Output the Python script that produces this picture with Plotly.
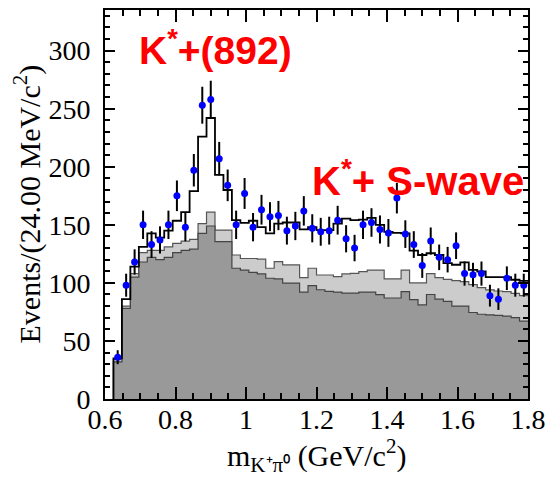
import plotly.graph_objects as go

# Binning: 24 MeV bins from 0.624 to 1.800 GeV/c^2
bin_lo = 0.624
bin_w = 0.024
n_bins = 49

# Observed events per bin
counts = [36, 98, 118, 150, 133, 137, 150, 175, 148, 197,
          253, 258, 207, 184, 150, 177, 148, 163, 157, 158,
          145, 149, 162, 147, 144, 145, 154, 138, 130, 150,
          152, 146, 143, 173, 142, 133, 115, 136, 122, 120,
          132, 108, 107, 108, 89, 86, 104, 98, 98]

# Statistical (Poisson) uncertainties on the counts
count_err = [6.0, 9.9, 10.9, 12.2, 11.5, 11.7, 12.2, 13.2, 12.2, 14.0,
             15.9, 16.1, 14.4, 13.6, 12.2, 13.3, 12.2, 12.8, 12.5, 12.6,
             12.0, 12.2, 12.7, 12.1, 12.0, 12.0, 12.4, 11.7, 11.4, 12.2,
             12.3, 12.1, 12.0, 13.2, 11.9, 11.5, 10.7, 11.7, 11.0, 11.0,
             11.5, 10.4, 10.3, 10.4, 9.4, 9.3, 10.2, 9.9, 9.9]

# Total fit
fit_total = [35, 86, 114, 131, 142.6, 139, 145, 153.5, 161, 179,
             226, 242, 193, 180, 154, 151.7, 153.5, 148, 142.6, 151,
             152, 152, 146, 148, 145.5, 145.5, 151, 155.4, 154, 154.5,
             156, 150, 144, 143, 142.6, 127.7, 124, 125.5, 124, 117,
             115.6, 117.6, 111.2, 109.8, 105, 105, 105, 102.7, 101.8]

# Stacked background: light component sits on top of the dark one
bkg_light = [34, 80, 108, 126, 128, 128, 131, 134, 136, 137.5,
             151, 161, 145.5, 145.5, 124, 121, 121, 120.4, 112.6, 118.3,
             115.5, 115.5, 104.6, 112.6, 106.8, 106.8, 105.4, 107.7, 108.2, 109.7,
             111, 111, 103.5, 103.5, 111, 100, 100, 108, 104.5, 103,
             102, 101, 98.5, 96, 94, 93, 92.5, 91, 89]

bkg_dark = [32, 78, 105, 118, 122, 120, 122, 126, 128, 129,
            142.6, 149, 135.5, 135.5, 112.6, 111, 109, 107.7, 104, 103.4,
            99.8, 99.8, 92.1, 97.6, 94.1, 92.7, 92.1, 91.2, 91.2, 92.1,
            92.1, 89.8, 87, 87, 92.5, 85.5, 81, 90, 86, 84,
            80, 80, 74.5, 73, 72.5, 72, 71.3, 70, 67]

edges = [bin_lo + bin_w * i for i in range(n_bins + 1)]
centers = [bin_lo + bin_w * (i + 0.5) for i in range(n_bins)]


def step_xy(vals):
    # hv-step path starting from zero at the first edge
    xs = [edges[0]] + edges
    ys = [0] + list(vals) + [vals[-1]]
    return xs, ys


fig = go.Figure()

x_l, y_l = step_xy(bkg_light)
fig.add_trace(go.Scatter(x=x_l, y=y_l, mode="lines", line_shape="hv",
                         line=dict(color="#555555", width=1.2),
                         fill="tozeroy", fillcolor="#cccccc",
                         showlegend=False, hoverinfo="skip"))

x_d, y_d = step_xy(bkg_dark)
fig.add_trace(go.Scatter(x=x_d, y=y_d, mode="lines", line_shape="hv",
                         line=dict(color="#444444", width=1.2),
                         fill="tozeroy", fillcolor="#999999",
                         showlegend=False, hoverinfo="skip"))

x_t, y_t = step_xy(fit_total)
fig.add_trace(go.Scatter(x=x_t, y=y_t, mode="lines", line_shape="hv",
                         line=dict(color="black", width=1.8),
                         showlegend=False, hoverinfo="skip"))

fig.add_trace(go.Scatter(x=centers, y=counts, mode="markers",
                         marker=dict(color="#0000ff", size=7, line=dict(width=0)),
                         error_y=dict(type="data", array=count_err, visible=True,
                                      color="black", thickness=2, width=0),
                         showlegend=False))

serif = "Liberation Serif, Times New Roman, serif"
sans = "Liberation Sans, Arial, sans-serif"

axis_common = dict(showline=True, linecolor="black", linewidth=2, mirror="allticks",
                   ticks="inside", tickcolor="black", tickwidth=1.5, showgrid=False,
                   zeroline=False, tickfont=dict(family=serif, size=28, color="black"))

fig.update_xaxes(range=[0.6, 1.8], dtick=0.2, tick0=0.6, ticklen=12,
                 minor=dict(dtick=0.05, tick0=0.6, ticklen=6, ticks="inside",
                            tickcolor="black", tickwidth=1.5, showgrid=False),
                 ticklabelstandoff=-6, **axis_common)
fig.update_yaxes(range=[0, 335], dtick=50, tick0=0, ticklen=10,
                 minor=dict(dtick=10, tick0=0, ticklen=5, ticks="inside",
                            tickcolor="black", tickwidth=1.5, showgrid=False),
                 ticklabelstandoff=7, **axis_common)

fig.add_annotation(text="Events/(24.00 MeV/c<sup>2</sup>)", textangle=-90,
                   xref="paper", yref="paper", x=-0.182, y=0.5,
                   xanchor="center", yanchor="middle", showarrow=False,
                   font=dict(family=serif, size=30, color="black"))
fig.add_annotation(text="m<sub>K⁺π⁰</sub> (GeV/c<sup>2</sup>)",
                   xref="paper", yref="paper", x=0.5, y=-0.145,
                   xanchor="center", yanchor="middle", showarrow=False,
                   font=dict(family=serif, size=30, color="black"))

fig.add_annotation(text="<b>K<sup>*</sup>+(892)</b>", x=0.69, y=303,
                   xanchor="left", yanchor="middle", showarrow=False,
                   font=dict(family=sans, size=39, color="#ff0000"))
fig.add_annotation(text="<b>K<sup>*</sup>+ S-wave</b>", x=1.181, y=190,
                   xanchor="left", yanchor="middle", showarrow=False,
                   font=dict(family=sans, size=40, color="#ff0000"))

fig.update_layout(width=554, height=481, margin=dict(l=105, r=18, t=8, b=82),
                  paper_bgcolor="white", plot_bgcolor="white")

fig.write_html("out.html")
